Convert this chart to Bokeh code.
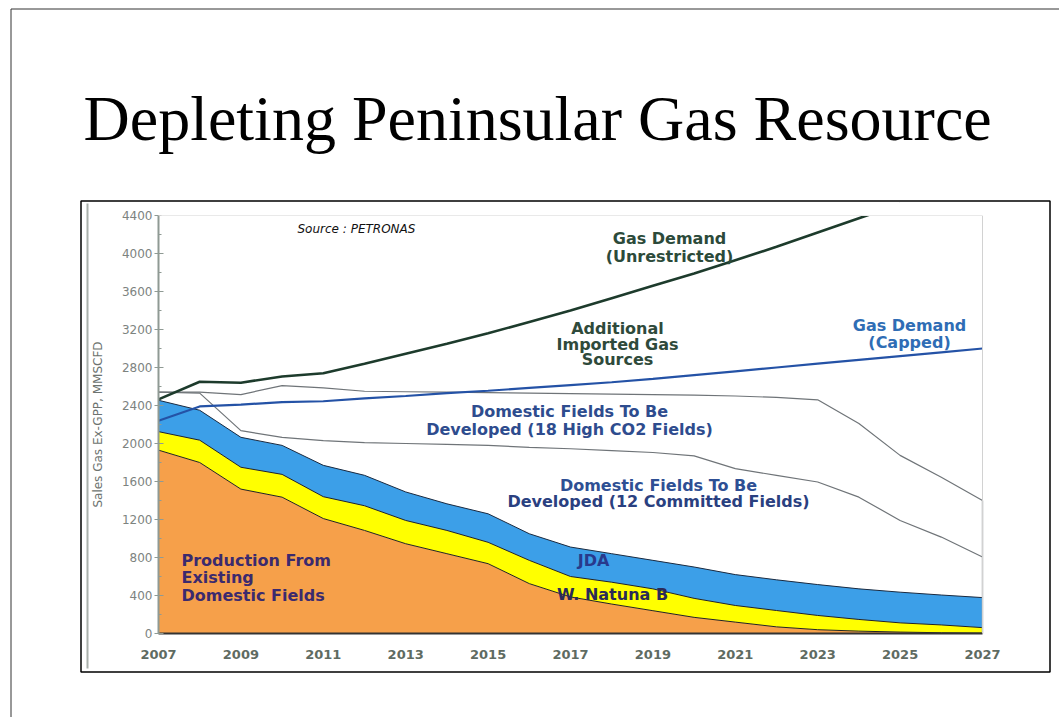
from bokeh.plotting import figure
from bokeh.models import Label, BoxAnnotation, ColumnDataSource, FixedTicker, Range1d
from bokeh.embed import file_html
from bokeh.resources import INLINE

# ---------------- data (MMSCFD) ----------------
years = list(range(2007, 2028))
existing_fields = [1930, 1800, 1520, 1435, 1210, 1085, 945, 840, 735, 525, 385,
                   310, 240, 170, 120, 70, 40, 25, 15, 8, 5]
w_natuna_b = [195, 235, 230, 240, 230, 260, 245, 245, 225, 245, 215,
              230, 230, 200, 175, 172, 150, 123, 97, 82, 57]
jda = [330, 315, 315, 305, 330, 320, 300, 280, 300, 280, 310,
       300, 300, 330, 325, 323, 325, 322, 323, 315, 316]
supply_12_committed = [2540, 2530, 2135, 2065, 2030, 2010, 2000, 1990, 1980, 1960, 1945,
                       1925, 1905, 1870, 1735, 1665, 1595, 1435, 1190, 1015, 805]
supply_18_high_co2 = [2540, 2540, 2515, 2610, 2585, 2550, 2545, 2540, 2535, 2530, 2525,
                      2520, 2515, 2510, 2500, 2485, 2460, 2210, 1875, 1645, 1400]
demand_unrestricted = [2465, 2650, 2640, 2705, 2740, 2840, 2945, 3050, 3160, 3280, 3400,
                       3530, 3660, 3790, 3930, 4070, 4220, 4370, 4520]
demand_capped = [2240, 2390, 2410, 2435, 2445, 2475, 2500, 2530, 2555, 2585, 2615,
                 2645, 2680, 2720, 2760, 2800, 2840, 2880, 2920, 2960, 3000]
x_tick_years = list(range(2007, 2028, 2))
y_ticks = list(range(0, 4401, 400))
y_minor_ticks = list(range(200, 4400, 400))

# ---------------- layout constants (page pixels) ----------------
W, H = 1059, 717
PX_X0, PX_X1 = 158, 982      # page x of first / last year
PX_Y0, PX_Y1 = 633, 215      # page y of 0 / top tick
X0, X1 = years[0], years[-1]
Y0, Y1 = y_ticks[0], y_ticks[-1]
kx = (PX_X1 - PX_X0) / (X1 - X0)
ky = (PX_Y0 - PX_Y1) / (Y1 - Y0)
x_range = Range1d(X0 - PX_X0 / kx, X1 + (W - PX_X1) / kx)
y_range = Range1d(Y0 - (H - PX_Y0) / ky, Y1 + PX_Y1 / ky)


def sx(px):
    return px


def sy(py):
    return H - py


p = figure(width=W, height=H, output_backend="svg", toolbar_location=None,
           x_range=x_range, y_range=y_range,
           min_border_left=0, min_border_right=0, min_border_top=0, min_border_bottom=0)
p.background_fill_color = "white"
p.border_fill_color = "white"
p.outline_line_color = None
p.xgrid.visible = False
p.ygrid.visible = False

# stacked production areas
src = ColumnDataSource(dict(year=years, existing=existing_fields,
                            natuna=w_natuna_b, jda=jda))
stackers = ["existing", "natuna", "jda"]
p.varea_stack(stackers=stackers, x="year", source=src,
              color=["#F6A04A", "#FFFF00", "#3C9FE8"])
p.vline_stack(stackers=stackers, x="year", source=src,
              color=["#222222", "#222222", "#1a2a40"], line_width=1)

# fields-to-be-developed supply lines
p.line(years, supply_12_committed, line_color="#6f7478", line_width=1.2)
p.line(years, supply_18_high_co2, line_color="#6f7478", line_width=1.2)
p.segment(x0=[X1], y0=[Y0], x1=[X1], y1=[supply_18_high_co2[-1]],
          line_color="#a8acb0", line_width=1.5)

# demand lines
p.line(years[:len(demand_unrestricted)], demand_unrestricted,
       line_color="#1d3b2c", line_width=2.6)
p.line(years, demand_capped, line_color="#2452a6", line_width=2.2)

# mask above the plot top (inside the picture frame)
p.add_layout(BoxAnnotation(left=sx(PX_X0 + 3), right=sx(1048), bottom=Y1, top=sy(202),
                           left_units="screen", right_units="screen",
                           bottom_units="data", top_units="screen",
                           fill_color="white", fill_alpha=1, line_alpha=0,
                           level="overlay"))
# light outline of the plotting area (top and right)
p.line([X0, X1, X1], [Y1, Y1, Y0], line_color="#d2d2d2", line_width=1, level="overlay")

# ---------------- axes ----------------
p.xaxis.fixed_location = Y0
p.xaxis.bounds = (X0, X1)
p.xaxis.ticker = FixedTicker(ticks=x_tick_years)
p.xaxis.axis_line_color = "#333333"
p.xaxis.axis_line_width = 2
p.xaxis.major_tick_out = 0
p.xaxis.major_tick_in = 0
p.xaxis.minor_tick_out = 0
p.xaxis.minor_tick_in = 0
p.xaxis.major_label_standoff = 16
p.xaxis.major_label_text_font = "DejaVu Sans"
p.xaxis.major_label_text_font_style = "bold"
p.xaxis.major_label_text_font_size = "13px"
p.xaxis.major_label_text_color = "#5f6b62"

p.yaxis.fixed_location = X0
p.yaxis.bounds = (Y0, Y1)
p.yaxis.ticker = FixedTicker(ticks=y_ticks, minor_ticks=y_minor_ticks)
p.yaxis.axis_line_color = "#8f9a94"
p.yaxis.axis_line_width = 2
p.yaxis.major_tick_line_color = "#8f9a94"
p.yaxis.major_tick_out = 4
p.yaxis.major_tick_in = 5
p.yaxis.minor_tick_line_color = "#8f9a94"
p.yaxis.minor_tick_out = 0
p.yaxis.minor_tick_in = 3
p.yaxis.major_label_standoff = 2
p.yaxis.major_label_text_font = "DejaVu Sans"
p.yaxis.major_label_text_font_size = "12px"
p.yaxis.major_label_text_color = "#7d837f"
p.yaxis.axis_label = "Sales Gas Ex-GPP, MMSCFD"
p.yaxis.axis_label_text_font = "DejaVu Sans"
p.yaxis.axis_label_text_font_style = "normal"
p.yaxis.axis_label_text_font_size = "12px"
p.yaxis.axis_label_text_color = "#6d736f"
p.yaxis.axis_label_standoff = 14

# ---------------- decorations ----------------
# slide border (left + top)
p.add_layout(BoxAnnotation(left=sx(10.5), right=sx(1300), top=sy(8.5), bottom=sy(1000),
                           left_units="screen", right_units="screen",
                           top_units="screen", bottom_units="screen",
                           fill_alpha=0, line_color="#333333", line_alpha=1, line_width=1,
                           level="overlay"))
# chart picture frame
p.add_layout(BoxAnnotation(left=sx(80.5), right=sx(1049.5), top=sy(200.5), bottom=sy(671.5),
                           left_units="screen", right_units="screen",
                           top_units="screen", bottom_units="screen",
                           fill_alpha=0, line_color="black", line_alpha=1, line_width=1.5,
                           level="overlay"))
p.add_layout(BoxAnnotation(left=sx(86), right=sx(88), top=sy(203), bottom=sy(668),
                           left_units="screen", right_units="screen",
                           top_units="screen", bottom_units="screen",
                           fill_color="#a9b0ab", fill_alpha=1, line_alpha=0,
                           level="overlay"))


def lab(text, px, py, color, size, align="center", baseline="middle",
        font="DejaVu Sans", style="bold"):
    p.add_layout(Label(x=sx(px), y=sy(py), x_units="screen", y_units="screen",
                       text=text, text_align=align, text_baseline=baseline,
                       text_color=color, text_font=font, text_font_style=style,
                       text_font_size=f"{size}px"))


lab("Depleting Peninsular Gas Resource", 83, 118, "black", 64, align="left",
    baseline="alphabetic", font="Liberation Serif", style="normal")
lab("Source : PETRONAS", 297, 228, "#111111", 12, align="left", style="italic")

lab("Gas Demand", 669, 238, "#2c4a3a", 16)
lab("(Unrestricted)", 669, 256, "#2c4a3a", 16)
lab("Additional", 617, 328, "#2f4a3b", 16)
lab("Imported Gas", 617, 344, "#2f4a3b", 16)
lab("Sources", 617, 359, "#2f4a3b", 16)
lab("Gas Demand", 909, 325, "#2f6db5", 16)
lab("(Capped)", 909, 342, "#2f6db5", 16)
lab("Domestic Fields To Be", 569, 411, "#2e4c8e", 16)
lab("Developed (18 High CO2 Fields)", 569, 429, "#2e4c8e", 16)
lab("Domestic Fields To Be", 658, 485, "#2e4f94", 16)
lab("Developed (12 Committed Fields)", 658, 501, "#2a4080", 16)
lab("JDA", 593, 560, "#283a8c", 16)
lab("W. Natuna B", 612, 594, "#2a2a58", 16)
lab("Production From", 181, 560, "#3b2a6e", 16, align="left")
lab("Existing", 181, 577, "#3b2a6e", 16, align="left")
lab("Domestic Fields", 181, 595, "#3b2a6e", 16, align="left")

open("out.html", "w").write(file_html(p, INLINE))
